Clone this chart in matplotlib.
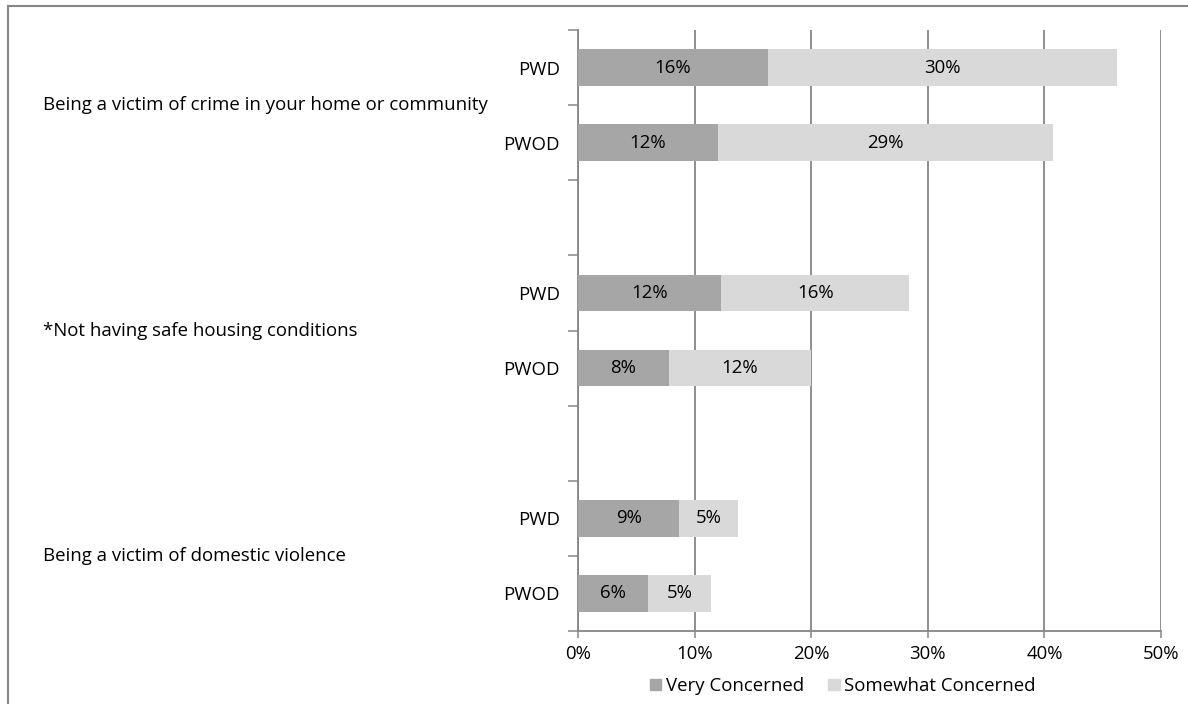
import matplotlib
matplotlib.use("Agg")
import matplotlib.pyplot as plt
from matplotlib.transforms import blended_transform_factory
from matplotlib.lines import Line2D
from matplotlib.patches import Patch

plt.rcParams['font.family'] = ['Open Sans', 'DejaVu Sans']

groups = ["Being a victim of crime in your home or community",
          "*Not having safe housing conditions",
          "Being a victim of domestic violence"]
subcats = ["PWD", "PWOD"]
very = [16.3, 12.0, 12.3, 7.8, 8.7, 6.0]
somewhat = [29.9, 28.7, 16.1, 12.2, 5.0, 5.4]
very_labels = ["16%", "12%", "12%", "8%", "9%", "6%"]
somewhat_labels = ["30%", "29%", "16%", "12%", "5%", "5%"]
series_names = ["Very Concerned", "Somewhat Concerned"]
xticks = [0, 10, 20, 30, 40, 50]
xtick_labels = ["0%", "10%", "20%", "30%", "40%", "50%"]

c_very = "#A6A6A6"
c_some = "#D9D9D9"
gray = "#868686"

W, H = 1188, 704
fig = plt.figure(figsize=(W / 100, H / 100), dpi=100)
ax = fig.add_axes([578 / W, 1 - 631 / H, (1161 - 578) / W, (631 - 30) / H])

# slot positions: PWD, PWOD, blank for each group
ypos = []
for g in range(len(groups)):
    ypos += [g * 3, g * 3 + 1]

ax.barh(ypos, very, height=0.49, color=c_very, zorder=3)
ax.barh(ypos, somewhat, left=very, height=0.49, color=c_some, zorder=3)

fs = 13.4
for y, v, s, vl, sl in zip(ypos, very, somewhat, very_labels, somewhat_labels):
    ax.text(v / 2, y, vl, ha="center", va="center", fontsize=fs, zorder=4)
    ax.text(v + s / 2, y, sl, ha="center", va="center", fontsize=fs, zorder=4)

ax.set_xlim(0, 50)
ax.set_ylim(7.5, -0.5)
ax.set_xticks(xticks)
ax.set_xticklabels(xtick_labels, fontsize=fs)
ax.tick_params(axis="x", length=5, color=gray, width=1.1, pad=5)
ax.xaxis.grid(True, color=gray, linewidth=1.3, zorder=0)

ax.set_yticks(ypos)
ax.set_yticklabels(subcats * len(groups), fontsize=fs)
ax.tick_params(axis="y", which="major", length=0, pad=13)
ax.set_yticks([i - 0.5 for i in range(9)], minor=True)
ax.tick_params(axis="y", which="minor", length=7, color=gray, width=1.1)

for sp in ["top", "right"]:
    ax.spines[sp].set_visible(False)
for sp in ["left", "bottom"]:
    ax.spines[sp].set_color(gray)
    ax.spines[sp].set_linewidth(1.3)

trans = blended_transform_factory(fig.transFigure, ax.transData)
for g, name in enumerate(groups):
    ax.text(43 / W, g * 3 + 0.5, name, transform=trans, ha="left", va="center", fontsize=fs)

handles = [Patch(color=c_very), Patch(color=c_some)]
fig.legend(handles, series_names, loc="center", bbox_to_anchor=(843 / W, 1 - 686 / H),
           ncol=2, frameon=False, fontsize=fs, handlelength=0.6, handleheight=0.6,
           handletextpad=0.25, columnspacing=1.3, borderpad=0)

# outer border
fig.add_artist(Line2D([8 / W, 8 / W], [0, 1 - 6 / H], transform=fig.transFigure, color=gray, linewidth=1.5))
fig.add_artist(Line2D([8 / W, 1], [1 - 6 / H, 1 - 6 / H], transform=fig.transFigure, color=gray, linewidth=1.5))

fig.savefig("out.png", dpi=100)
